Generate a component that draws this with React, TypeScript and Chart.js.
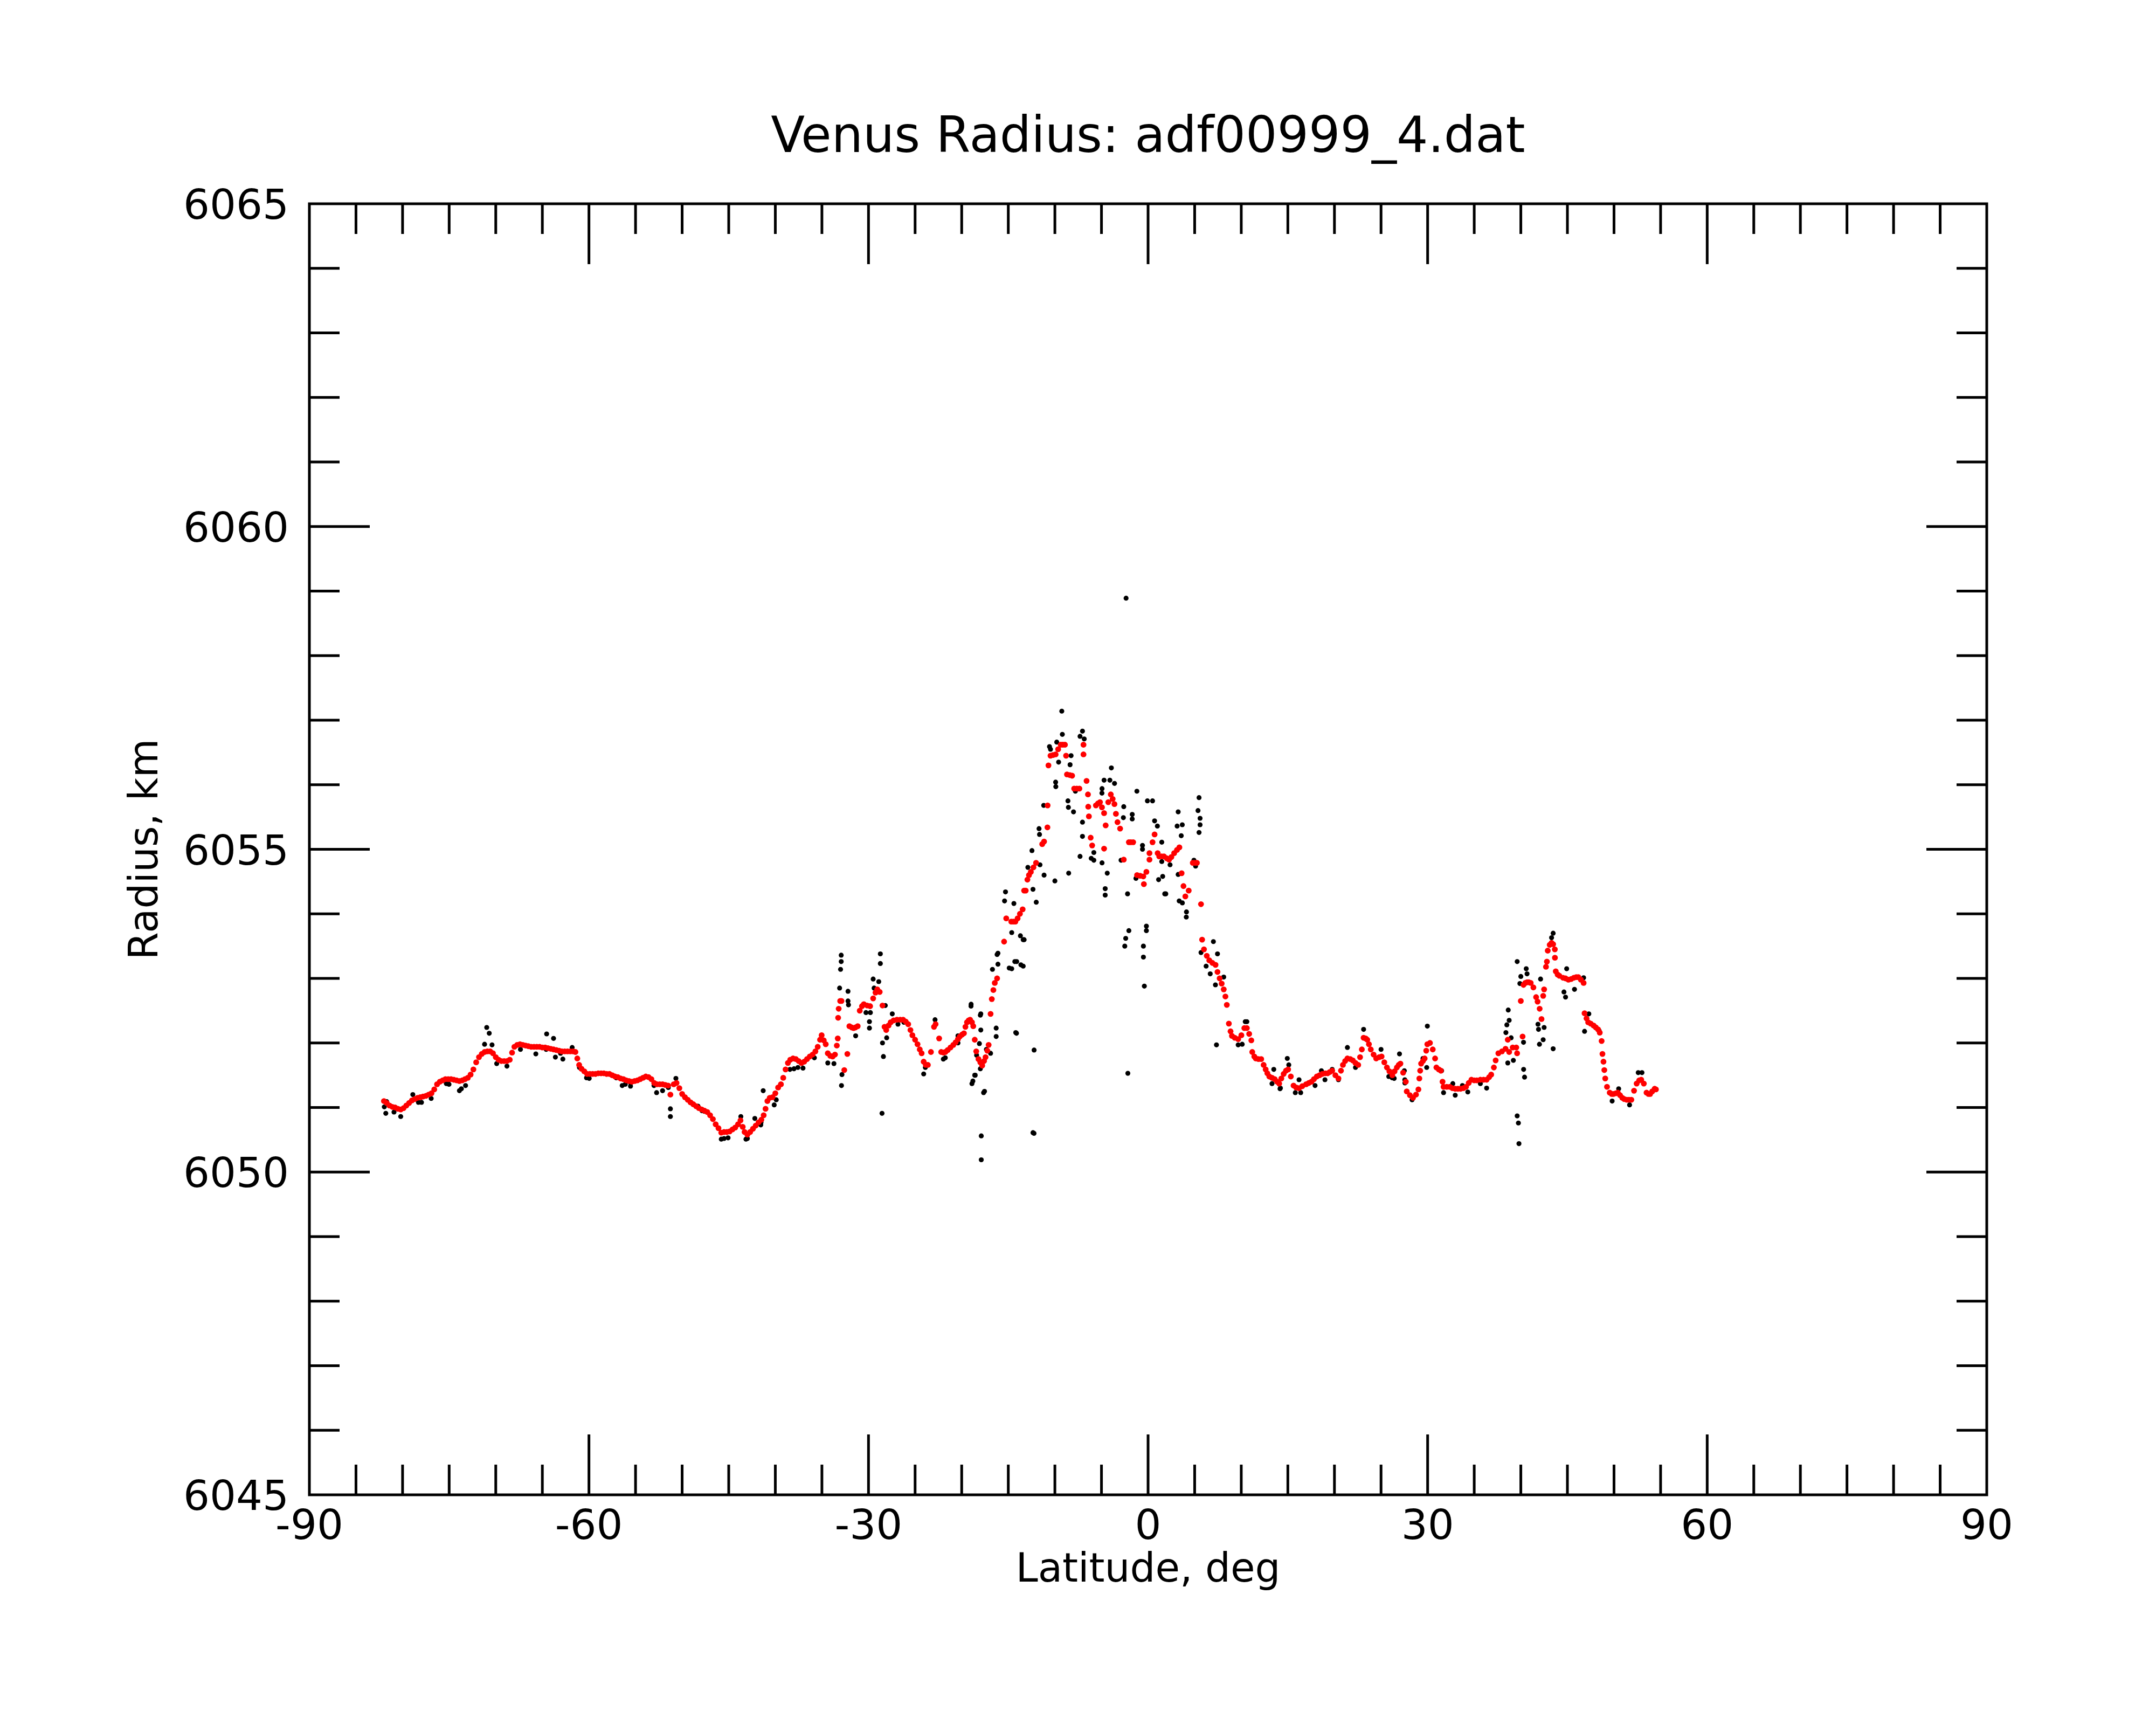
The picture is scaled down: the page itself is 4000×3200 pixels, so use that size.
import React, { useEffect, useRef } from "react";
import { Chart, registerables, ChartConfiguration } from "chart.js";

Chart.register(...registerables);

// smoothed radius profile (red), [latitude deg, radius km]
const redSouth: [number, number][] = [
  [-82.0, 6051.1], [-81.7, 6051.07], [-81.4, 6051.03], [-81.1, 6051.01], [-80.8, 6051.0], [-80.5, 6050.98],
  [-80.2, 6050.97], [-79.9, 6050.99], [-79.6, 6051.03], [-79.3, 6051.07], [-79.0, 6051.11], [-78.7, 6051.13],
  [-78.4, 6051.15], [-78.1, 6051.16], [-77.8, 6051.17], [-77.5, 6051.18], [-77.2, 6051.2], [-76.9, 6051.22],
  [-76.6, 6051.28], [-76.3, 6051.36], [-76.0, 6051.4], [-75.7, 6051.42], [-75.4, 6051.44], [-75.1, 6051.44],
  [-74.8, 6051.44], [-74.5, 6051.43], [-74.2, 6051.42], [-73.9, 6051.41], [-73.6, 6051.42], [-73.3, 6051.44],
  [-73.0, 6051.46], [-72.7, 6051.51], [-72.4, 6051.59], [-72.1, 6051.7], [-71.8, 6051.78], [-71.5, 6051.83],
  [-71.2, 6051.86], [-70.9, 6051.87], [-70.6, 6051.87], [-70.3, 6051.84], [-70.0, 6051.78], [-69.7, 6051.74],
  [-69.4, 6051.72], [-69.1, 6051.72], [-68.8, 6051.72], [-68.5, 6051.74], [-68.25, 6051.85], [-68.0, 6051.94],
  [-67.7, 6051.97], [-67.4, 6051.98], [-67.1, 6051.97], [-66.8, 6051.96], [-66.5, 6051.95], [-66.2, 6051.94],
  [-65.9, 6051.94], [-65.6, 6051.94], [-65.3, 6051.94], [-65.0, 6051.93], [-64.7, 6051.93], [-64.4, 6051.92],
  [-64.1, 6051.91], [-63.8, 6051.9], [-63.5, 6051.89], [-63.2, 6051.88], [-62.9, 6051.87], [-62.6, 6051.87],
  [-62.3, 6051.87], [-62.0, 6051.87], [-61.7, 6051.87], [-61.45, 6051.86], [-61.25, 6051.76], [-61.05, 6051.66],
  [-60.8, 6051.6], [-60.5, 6051.56], [-60.2, 6051.52], [-59.9, 6051.52], [-59.6, 6051.52], [-59.3, 6051.52],
  [-59.0, 6051.53], [-58.7, 6051.53], [-58.4, 6051.53], [-58.1, 6051.52], [-57.8, 6051.52], [-57.5, 6051.5],
  [-57.2, 6051.48], [-56.9, 6051.47], [-56.6, 6051.45], [-56.3, 6051.44], [-56.0, 6051.42], [-55.7, 6051.41],
  [-55.4, 6051.4], [-55.1, 6051.41], [-54.8, 6051.42], [-54.5, 6051.44], [-54.2, 6051.46], [-53.9, 6051.48],
  [-53.6, 6051.47], [-53.3, 6051.44], [-53.0, 6051.38], [-52.7, 6051.36], [-52.4, 6051.36], [-52.1, 6051.36],
  [-51.8, 6051.35], [-51.5, 6051.34], [-51.26, 6051.2], [-50.9, 6051.36], [-50.6, 6051.38], [-50.3, 6051.3],
  [-50.0, 6051.21], [-49.7, 6051.16], [-49.4, 6051.12], [-49.1, 6051.08], [-48.8, 6051.05], [-48.5, 6051.02],
  [-48.2, 6050.99], [-47.9, 6050.97], [-47.6, 6050.95], [-47.3, 6050.93], [-47.0, 6050.88], [-46.7, 6050.82],
  [-46.4, 6050.74], [-46.1, 6050.68], [-45.8, 6050.61], [-45.5, 6050.62], [-45.2, 6050.62], [-44.9, 6050.63],
  [-44.6, 6050.66], [-44.3, 6050.69], [-44.0, 6050.74], [-43.74, 6050.8], [-43.5, 6050.7], [-43.3, 6050.62],
  [-43.0, 6050.58], [-42.7, 6050.62], [-42.4, 6050.67], [-42.1, 6050.72], [-41.8, 6050.77], [-41.5, 6050.81],
  [-41.25, 6050.88], [-41.05, 6050.98], [-40.85, 6051.1], [-40.6, 6051.15], [-40.3, 6051.16], [-40.0, 6051.22],
  [-39.7, 6051.31], [-39.4, 6051.36], [-39.15, 6051.46], [-38.9, 6051.59], [-38.65, 6051.69], [-38.4, 6051.74],
  [-38.1, 6051.76], [-37.8, 6051.75], [-37.5, 6051.72], [-37.2, 6051.69], [-36.9, 6051.71], [-36.6, 6051.75],
  [-36.3, 6051.79], [-36.0, 6051.82], [-35.7, 6051.87], [-35.45, 6051.94], [-35.2, 6052.05], [-35.03, 6052.12],
  [-34.8, 6052.04], [-34.59, 6051.98], [-34.37, 6051.84], [-34.1, 6051.8], [-33.85, 6051.79], [-33.6, 6051.82],
  [-33.4, 6051.96],
];
const redMid: [number, number][] = [
  [-33.3, 6052.07], [-33.26, 6052.39], [-33.2, 6052.53], [-33.04, 6052.65], [-32.9, 6052.65], [-32.6, 6051.58],
  [-32.27, 6051.83], [-32.05, 6052.26], [-31.8, 6052.24], [-31.6, 6052.23], [-31.4, 6052.24], [-31.16, 6052.26],
  [-30.94, 6052.5], [-30.7, 6052.57], [-30.5, 6052.6], [-30.15, 6052.58], [-29.83, 6052.57], [-29.5, 6052.69],
  [-29.25, 6052.78], [-29.06, 6052.83], [-28.8, 6052.79], [-28.5, 6052.58], [-28.28, 6052.25], [-28.1, 6052.2],
  [-27.85, 6052.27], [-27.62, 6052.32], [-27.3, 6052.35], [-26.95, 6052.36], [-26.6, 6052.36], [-26.29, 6052.36],
  [-26.0, 6052.33], [-25.74, 6052.29], [-25.5, 6052.2], [-25.29, 6052.12], [-25.0, 6052.05], [-24.74, 6051.98],
  [-24.5, 6051.9], [-24.3, 6051.84], [-24.08, 6051.71], [-23.85, 6051.66], [-23.63, 6051.66], [-23.3, 6051.86],
  [-22.97, 6052.25], [-22.8, 6052.29], [-22.42, 6052.07], [-22.2, 6051.86], [-21.95, 6051.85], [-21.75, 6051.86],
  [-21.5, 6051.89], [-21.2, 6051.93], [-20.9, 6051.97], [-20.65, 6052.01], [-20.4, 6052.06], [-20.2, 6052.1],
  [-19.95, 6052.13], [-19.76, 6052.15], [-19.6, 6052.25], [-19.43, 6052.32], [-19.25, 6052.35], [-19.1, 6052.36],
  [-18.9, 6052.32], [-18.76, 6052.26], [-18.6, 6052.05], [-18.44, 6051.87], [-18.2, 6051.75], [-18.0, 6051.7],
  [-17.8, 6051.65], [-17.6, 6051.72], [-17.44, 6051.78], [-17.25, 6051.88], [-17.11, 6051.97], [-16.9, 6052.45],
  [-16.77, 6052.68], [-16.6, 6052.82], [-16.45, 6052.93], [-16.2, 6053.0], [-15.45, 6053.57], [-15.22, 6053.93],
];
const redPeak: [number, number][] = [
  [-14.68, 6053.88], [-14.45, 6053.88], [-14.24, 6053.88], [-14.0, 6053.93], [-13.75, 6054.0], [-13.46, 6054.07],
  [-13.3, 6054.36], [-13.13, 6054.36], [-12.95, 6054.53], [-12.78, 6054.6], [-12.58, 6054.65], [-12.3, 6054.72],
  [-12.02, 6054.79], [-11.36, 6055.08], [-11.16, 6055.12], [-10.8, 6055.34], [-10.78, 6055.68], [-10.69, 6056.3],
  [-10.47, 6056.45], [-10.2, 6056.46], [-9.92, 6056.47], [-9.65, 6056.55], [-9.37, 6056.62], [-9.15, 6056.62],
  [-8.92, 6056.62], [-8.8, 6056.45], [-8.7, 6056.16], [-8.4, 6056.15], [-8.15, 6056.14], [-7.93, 6055.94],
  [-7.65, 6055.94], [-7.37, 6055.94], [-6.93, 6056.47], [-6.93, 6056.62], [-6.6, 6056.06], [-6.45, 6055.85],
  [-6.42, 6055.66], [-6.35, 6055.51], [-6.16, 6055.18], [-6.0, 6055.06], [-5.6, 6055.68], [-5.38, 6055.71],
  [-5.16, 6055.73], [-4.95, 6055.65], [-4.72, 6055.56], [-4.72, 6055.01], [-4.55, 6055.37], [-4.27, 6055.73],
  [-4.0, 6055.85], [-3.8, 6055.78], [-3.61, 6055.7], [-3.45, 6055.55], [-3.28, 6055.42], [-3.0, 6055.32],
  [-2.61, 6054.84], [-2.06, 6055.11], [-1.85, 6055.11], [-1.6, 6055.11], [-1.18, 6054.6], [-0.85, 6054.59],
  [-0.51, 6054.58], [-0.45, 6054.46], [-0.18, 6054.65], [0.15, 6054.94], [0.15, 6054.84], [0.48, 6055.11],
  [0.7, 6055.23], [1.03, 6054.94], [1.2, 6054.89], [1.45, 6054.89], [1.7, 6054.89], [2.0, 6054.86],
  [2.25, 6054.84], [2.5, 6054.88], [2.8, 6054.94], [3.1, 6054.99], [3.36, 6055.03], [3.6, 6054.63],
  [3.8, 6054.43], [4.0, 6054.27], [4.36, 6054.36], [4.8, 6054.79], [5.02, 6054.79], [5.24, 6054.79],
  [5.68, 6054.15], [5.8, 6053.6], [6.0, 6053.45], [6.3, 6053.35], [6.57, 6053.28], [6.9, 6053.24],
  [7.24, 6053.21], [7.45, 6053.1], [7.68, 6053.0], [7.9, 6052.92], [8.12, 6052.83], [8.3, 6052.72],
  [8.45, 6052.59], [8.67, 6052.3], [8.85, 6052.18],
];
const redNorth: [number, number][] = [
  [9.0, 6052.11], [9.3, 6052.08], [9.67, 6052.06], [10.01, 6052.12], [10.33, 6052.23], [10.6, 6052.23],
  [10.85, 6052.14], [11.08, 6052.04], [11.18, 6051.86], [11.4, 6051.79], [11.56, 6051.76], [11.85, 6051.75],
  [12.14, 6051.75], [12.4, 6051.66], [12.62, 6051.59], [12.8, 6051.53], [13.01, 6051.48], [13.3, 6051.46],
  [13.59, 6051.44], [13.85, 6051.4], [14.07, 6051.37], [14.3, 6051.45], [14.55, 6051.52], [14.8, 6051.57],
  [15.03, 6051.59], [15.32, 6051.48], [15.61, 6051.34], [15.9, 6051.31], [16.19, 6051.3], [16.55, 6051.33],
  [16.96, 6051.36], [17.25, 6051.38], [17.54, 6051.4], [17.8, 6051.44], [18.11, 6051.48], [18.4, 6051.5],
  [18.69, 6051.52], [19.0, 6051.53], [19.27, 6051.53], [19.5, 6051.55], [19.76, 6051.57], [20.1, 6051.5],
  [20.43, 6051.45], [20.7, 6051.57], [20.91, 6051.66], [21.15, 6051.72], [21.39, 6051.76], [21.7, 6051.75],
  [21.97, 6051.73], [22.25, 6051.69], [22.55, 6051.66], [22.75, 6051.78], [22.94, 6051.9], [23.13, 6052.08],
  [23.35, 6052.07], [23.52, 6052.05], [23.7, 6051.98], [23.9, 6051.9], [24.2, 6051.82], [24.48, 6051.76],
  [24.8, 6051.78], [25.06, 6051.79], [25.35, 6051.7], [25.63, 6051.62], [25.9, 6051.56], [26.21, 6051.5],
  [26.45, 6051.56], [26.7, 6051.62], [26.9, 6051.66], [27.08, 6051.68], [27.37, 6051.54], [27.66, 6051.4],
  [27.76, 6051.25], [28.1, 6051.19], [28.43, 6051.15], [28.75, 6051.2], [29.01, 6051.28], [29.11, 6051.45],
  [29.2, 6051.57], [29.3, 6051.68], [29.5, 6051.72], [29.68, 6051.76], [29.85, 6051.88], [29.97, 6051.98],
  [30.25, 6052.0], [30.55, 6051.9], [30.8, 6051.76], [30.94, 6051.62], [31.2, 6051.59], [31.42, 6051.57],
  [31.6, 6051.4], [31.71, 6051.32], [32.05, 6051.32], [32.38, 6051.32], [32.67, 6051.3], [32.96, 6051.29],
  [33.25, 6051.29], [33.54, 6051.29], [33.83, 6051.3], [34.12, 6051.32], [34.41, 6051.38], [34.7, 6051.43],
  [35.0, 6051.42], [35.28, 6051.42], [35.66, 6051.43], [36.0, 6051.43], [36.33, 6051.43], [36.6, 6051.47],
  [36.82, 6051.51], [37.11, 6051.62], [37.3, 6051.73], [37.59, 6051.84], [37.98, 6051.87], [38.36, 6051.91],
  [38.6, 6052.05], [38.75, 6051.86], [39.13, 6051.93], [39.51, 6051.93], [39.6, 6051.84], [40.0, 6052.65],
  [40.19, 6052.1], [40.29, 6052.9], [40.48, 6052.93], [40.67, 6052.94], [40.85, 6052.94], [41.06, 6052.93],
  [41.35, 6052.86], [41.64, 6052.71], [41.8, 6052.64], [42.02, 6052.53], [42.22, 6052.37], [42.4, 6052.73],
  [42.5, 6052.83], [42.7, 6053.18], [42.8, 6053.26], [42.89, 6053.43], [43.1, 6053.52], [43.3, 6053.55],
  [43.47, 6053.53], [43.65, 6053.45], [43.66, 6053.32], [43.75, 6053.11], [43.95, 6053.06], [44.14, 6053.04],
  [44.53, 6053.01], [44.8, 6053.0], [45.11, 6052.98], [45.4, 6052.99], [45.69, 6053.01], [45.95, 6053.02],
  [46.17, 6053.02], [46.45, 6052.98], [46.74, 6052.93], [46.84, 6052.46], [47.05, 6052.38], [47.23, 6052.32],
  [47.5, 6052.3], [47.81, 6052.27], [48.05, 6052.24], [48.29, 6052.21], [48.47, 6052.16], [48.67, 6052.03],
  [48.76, 6051.83], [48.87, 6051.71], [48.96, 6051.58], [49.06, 6051.45], [49.25, 6051.32], [49.54, 6051.23],
  [49.75, 6051.21], [49.93, 6051.21], [50.2, 6051.22], [50.41, 6051.23], [50.65, 6051.19], [50.89, 6051.15],
  [51.1, 6051.13], [51.37, 6051.12], [51.6, 6051.12], [51.86, 6051.12], [52.15, 6051.26], [52.43, 6051.37],
  [52.7, 6051.42], [52.92, 6051.43], [53.2, 6051.37], [53.49, 6051.23], [53.7, 6051.21], [53.88, 6051.21],
  [54.1, 6051.25], [54.36, 6051.29], [54.5, 6051.28],
];

// raw radius measurements (black), [latitude deg, radius km]
const blackSouth: [number, number][] = [
  [-70.97, 6052.24], [-70.7, 6052.15], [-71.2, 6051.98], [-70.4, 6051.97], [-69.9, 6051.68], [-68.8, 6051.64],
  [-64.54, 6052.14], [-63.8, 6052.07], [-65.7, 6051.83], [-63.6, 6051.78], [-62.8, 6051.75], [-61.8, 6051.93],
  [-73.9, 6051.26], [-75.3, 6051.37], [-78.3, 6051.08], [-80.2, 6050.86], [-81.8, 6050.91], [-81.7, 6051.09],
  [-78.9, 6051.2], [-51.26, 6050.98], [-51.26, 6050.86], [-50.67, 6051.45], [-52.1, 6051.26], [-60.1, 6051.48],
  [-56.1, 6051.36], [-48.3, 6051.02], [-47.6, 6050.94], [-45.5, 6050.52], [-43.7, 6050.86], [-43.0, 6050.52],
  [-42.2, 6050.83], [-41.3, 6051.26], [-38.0, 6051.6], [-81.96, 6051.01], [-80.92, 6050.93], [-77.97, 6051.08],
  [-76.93, 6051.14], [-75.02, 6051.36], [-73.69, 6051.29], [-73.24, 6051.34], [-67.35, 6051.9], [-60.26, 6051.46],
  [-59.97, 6051.45], [-56.43, 6051.34], [-55.54, 6051.33], [-52.74, 6051.23], [-47.87, 6050.95], [-45.8, 6050.51],
  [-45.07, 6050.53], [-43.15, 6050.51], [-41.53, 6050.77], [-39.9, 6051.12], [-38.43, 6051.59], [-64.59, 6051.9],
  [-63.05, 6051.84], [-57.07, 6051.46], [-55.53, 6051.38], [-53.02, 6051.34], [-51.48, 6051.31], [-61.02, 6051.62],
];
const blackMid: [number, number][] = [
  [-32.93, 6053.36], [-32.93, 6053.26], [-33.0, 6053.14], [-33.1, 6052.85], [-32.2, 6052.8], [-32.2, 6052.65],
  [-32.15, 6052.59], [-32.9, 6051.34], [-32.85, 6051.51], [-28.73, 6053.38], [-28.73, 6053.23], [-29.5, 6052.99],
  [-28.9, 6052.95], [-29.4, 6052.85], [-29.9, 6052.33], [-29.9, 6052.23], [-28.05, 6052.08], [-28.5, 6052.0],
  [-28.4, 6051.79], [-28.55, 6050.91], [-28.2, 6052.58], [-27.45, 6052.45], [-24.08, 6051.52], [-22.86, 6052.36],
  [-18.99, 6052.6], [-17.95, 6052.45], [-17.95, 6052.2], [-18.1, 6051.99], [-18.55, 6051.5], [-18.9, 6051.37],
  [-17.65, 6051.23], [-17.9, 6050.56], [-17.9, 6050.19], [-16.11, 6053.39], [-16.11, 6053.22], [-16.3, 6052.23],
  [-16.3, 6052.1], [-14.12, 6052.15], [-12.23, 6051.89], [-12.35, 6050.61], [-14.63, 6053.71], [-14.63, 6053.15],
  [-14.1, 6053.26], [-13.4, 6053.19], [-13.3, 6053.6], [-13.7, 6053.66], [-41.56, 6050.73], [-40.12, 6051.04],
  [-37.58, 6051.62], [-37.03, 6051.61], [-35.81, 6051.77], [-34.37, 6051.69], [-33.71, 6051.68], [-31.38, 6052.11],
  [-30.27, 6052.47], [-29.8, 6052.47], [-26.84, 6052.29], [-26.2, 6052.32], [-23.9, 6051.62], [-21.97, 6051.75],
  [-20.4, 6052.0], [-18.4, 6051.81], [-16.9, 6051.84], [-17.55, 6051.25], [-18.6, 6051.5], [-18.8, 6051.41],
  [-18.0, 6052.43], [-19.0, 6052.57], [-21.76, 6051.77], [-20.4, 6052.11], [-18.0, 6051.6], [-17.35, 6051.9],
  [-16.7, 6053.14], [-16.2, 6053.37], [-15.3, 6054.34], [-15.4, 6054.2], [-14.4, 6054.16], [-13.65, 6053.21],
  [-14.3, 6053.26], [-14.9, 6053.16], [-14.2, 6052.16], [-13.4, 6053.6], [-12.24, 6050.6],
];
const blackPeak: [number, number][] = [
  [-9.26, 6057.14], [-9.2, 6056.78], [-10.58, 6056.59], [-9.8, 6056.66], [-7.04, 6056.83], [-6.85, 6056.71],
  [-7.3, 6056.75], [-8.26, 6056.45], [-9.6, 6056.35], [-9.92, 6056.04], [-9.9, 6055.97], [-8.37, 6056.31],
  [-7.8, 6055.9], [-8.6, 6055.75], [-8.55, 6055.65], [-8.0, 6055.58], [-7.04, 6055.42], [-7.04, 6055.2],
  [-7.3, 6054.89], [-5.82, 6054.95], [-5.82, 6054.83], [-4.94, 6054.79], [-4.38, 6054.63], [-4.6, 6054.39],
  [-4.6, 6054.29], [-3.94, 6056.26], [-4.72, 6056.07], [-4.1, 6056.07], [-3.6, 6056.02], [-4.94, 6055.94],
  [-4.95, 6055.87], [-2.61, 6055.66], [-2.65, 6055.49], [-1.7, 6055.54], [-1.7, 6055.47], [-1.2, 6055.9],
  [-0.07, 6055.75], [0.48, 6055.75], [0.7, 6055.44], [1.0, 6055.36], [-0.6, 6055.06], [-0.6, 6055.0],
  [1.47, 6055.11], [1.57, 6054.58], [1.13, 6054.53], [1.79, 6054.31], [3.23, 6055.58], [3.12, 6055.36],
  [3.67, 6055.38], [3.56, 6055.21], [3.23, 6054.61], [3.34, 6054.2], [4.12, 6054.03], [4.1, 6053.95],
  [5.47, 6055.8], [5.36, 6055.6], [5.58, 6055.48], [5.58, 6055.38], [5.47, 6055.26], [4.92, 6054.83],
  [5.1, 6054.74], [7.01, 6053.57], [7.45, 6053.38], [5.68, 6053.4], [6.23, 6053.19], [6.67, 6053.07],
  [7.23, 6052.9], [8.12, 6053.02], [7.34, 6051.97], [10.43, 6052.33], [9.67, 6051.97], [-2.17, 6051.53],
  [-0.4, 6052.88], [-0.18, 6053.81], [-0.18, 6053.74], [-2.06, 6053.74], [-2.4, 6053.62], [-2.5, 6053.5],
  [-0.5, 6053.5], [-0.5, 6053.33], [-2.2, 6054.31], [1.9, 6054.31], [-12.0, 6054.18], [-12.35, 6054.38],
  [-11.16, 6054.6], [-10.0, 6054.51], [-8.52, 6054.63], [-12.46, 6054.98], [-12.9, 6054.72], [-11.7, 6055.32],
  [-11.65, 6055.23], [-6.1, 6054.86], [-11.2, 6055.68], [-2.36, 6058.89], [-11.6, 6054.76], [-10.47, 6056.55],
  [-2.9, 6054.83], [-1.3, 6054.55], [1.47, 6054.81], [2.36, 6054.76], [3.68, 6054.17],
];
const blackNorth: [number, number][] = [
  [10.6, 6052.33], [10.1, 6051.98], [14.94, 6051.76], [15.1, 6051.66], [13.49, 6051.59], [13.3, 6051.37],
  [14.2, 6051.3], [16.2, 6051.43], [15.8, 6051.23], [21.39, 6051.93], [23.13, 6052.21], [25.0, 6051.9],
  [26.98, 6051.83], [29.97, 6052.26], [29.9, 6051.62], [29.5, 6051.76], [22.26, 6051.62], [18.6, 6051.57],
  [19.76, 6051.59], [31.5, 6051.57], [32.7, 6051.37], [33.75, 6051.33], [27.5, 6051.57], [27.55, 6051.43],
  [26.2, 6051.46], [14.16, 6051.29], [16.38, 6051.23], [17.92, 6051.34], [18.98, 6051.43], [20.43, 6051.43],
  [25.83, 6051.48], [26.41, 6051.45], [27.56, 6051.38], [31.71, 6051.23], [32.96, 6051.19], [34.31, 6051.24],
  [35.66, 6051.37], [28.33, 6051.12], [39.61, 6053.26], [40.58, 6053.15], [40.67, 6053.07], [40.0, 6053.03],
  [39.9, 6052.92], [42.12, 6052.99], [38.65, 6052.51], [38.75, 6052.35], [38.5, 6052.28], [38.4, 6052.16],
  [38.96, 6052.08], [40.29, 6052.01], [38.6, 6051.69], [39.2, 6051.73], [40.3, 6051.59], [40.4, 6051.47],
  [39.61, 6050.87], [39.74, 6050.76], [39.8, 6050.44], [43.47, 6053.7], [43.3, 6053.63], [41.84, 6052.29],
  [41.9, 6052.21], [42.5, 6052.24], [42.4, 6052.05], [42.0, 6051.98], [43.47, 6051.91], [44.92, 6053.15],
  [44.63, 6052.79], [44.8, 6052.71], [45.76, 6052.83], [46.74, 6053.01], [47.3, 6052.45], [46.84, 6052.18],
  [48.4, 6052.19], [50.5, 6051.29], [49.8, 6051.1], [51.67, 6051.04], [52.6, 6051.54], [53.0, 6051.54],
  [36.33, 6051.3], [33.73, 6051.34],
];

const xTickLabels = [-90, -60, -30, 0, 30, 60, 90];
const yTickLabels = [6045, 6050, 6055, 6060, 6065];
const xMinorStep = 5;
const yMinorStep = 1;

const FONT = '"DejaVu Sans", Verdana, sans-serif';

const toPoints = (rows: [number, number][][]) =>
  rows.flat().map(([lat, r]) => ({ x: lat, y: r }));

// IDL-style box: frame, inward ticks on all sides, labels
const framePlugin = {
  id: "idlFrame",
  afterDraw(chart: Chart) {
    const { ctx, chartArea, scales } = chart;
    const { left, right, top, bottom } = chartArea;
    const x = scales.x;
    const y = scales.y;
    ctx.save();
    ctx.strokeStyle = "#000";
    ctx.lineWidth = 5;
    ctx.strokeRect(left, top, right - left, bottom - top);

    ctx.beginPath();
    for (let v = -90 + xMinorStep; v < 90; v += xMinorStep) {
      const len = v % 30 === 0 ? 112 : 56;
      const px = x.getPixelForValue(v);
      ctx.moveTo(px, bottom);
      ctx.lineTo(px, bottom - len);
      ctx.moveTo(px, top);
      ctx.lineTo(px, top + len);
    }
    for (let v = 6045 + yMinorStep; v < 6065; v += yMinorStep) {
      const len = v % 5 === 0 ? 112 : 56;
      const py = y.getPixelForValue(v);
      ctx.moveTo(left, py);
      ctx.lineTo(left + len, py);
      ctx.moveTo(right, py);
      ctx.lineTo(right - len, py);
    }
    ctx.stroke();

    ctx.fillStyle = "#000";
    ctx.textBaseline = "alphabetic";

    ctx.font = `92px ${FONT}`;
    ctx.textAlign = "center";
    ctx.fillText("Venus Radius: adf00999_4.dat", (left + right) / 2, 282);

    ctx.font = `77px ${FONT}`;
    xTickLabels.forEach((v) => {
      ctx.fillText(String(v), x.getPixelForValue(v), bottom + 82);
    });
    ctx.textAlign = "right";
    yTickLabels.forEach((v) => {
      ctx.fillText(String(v), left - 38, y.getPixelForValue(v) + 28);
    });

    ctx.font = `74px ${FONT}`;
    ctx.textAlign = "center";
    ctx.fillText("Latitude, deg", (left + right) / 2, bottom + 161);

    ctx.translate(left - 282, (top + bottom) / 2);
    ctx.rotate(-Math.PI / 2);
    ctx.fillText("Radius, km", 0, 0);
    ctx.restore();
  },
};

const RadiusChart: React.FC = () => {
  const canvasRef = useRef<HTMLCanvasElement>(null);
  const chartRef = useRef<Chart>();

  useEffect(() => {
    document.body.style.margin = "0";
    const ctx = canvasRef.current?.getContext("2d");
    if (!ctx) return;

    const config: ChartConfiguration = {
      type: "scatter",
      data: {
        datasets: [
          {
            label: "smoothed",
            data: toPoints([redSouth, redMid, redPeak, redNorth]),
            pointRadius: 5.4,
            pointBackgroundColor: "#ff0000",
            pointBorderWidth: 0,
            order: 0,
          },
          {
            label: "raw",
            data: toPoints([blackSouth, blackMid, blackPeak, blackNorth]),
            pointRadius: 4.6,
            pointBackgroundColor: "#000000",
            pointBorderWidth: 0,
            order: 1,
          },
        ],
      },
      options: {
        animation: false,
        responsive: false,
        devicePixelRatio: 1,
        layout: { padding: { left: 574, right: 314, top: 378, bottom: 427 } },
        scales: {
          x: { type: "linear", min: -90, max: 90, display: false },
          y: { type: "linear", min: 6045, max: 6065, display: false },
        },
        plugins: {
          legend: { display: false },
          tooltip: { enabled: false },
        },
      },
      plugins: [framePlugin],
    };

    chartRef.current = new Chart(ctx, config);
    return () => {
      chartRef.current?.destroy();
    };
  }, []);

  return (
    <div style={{ width: 4000, height: 3200, background: "#fff" }}>
      <canvas ref={canvasRef} width={4000} height={3200} />
    </div>
  );
};

export default function App() {
  return <RadiusChart />;
}
